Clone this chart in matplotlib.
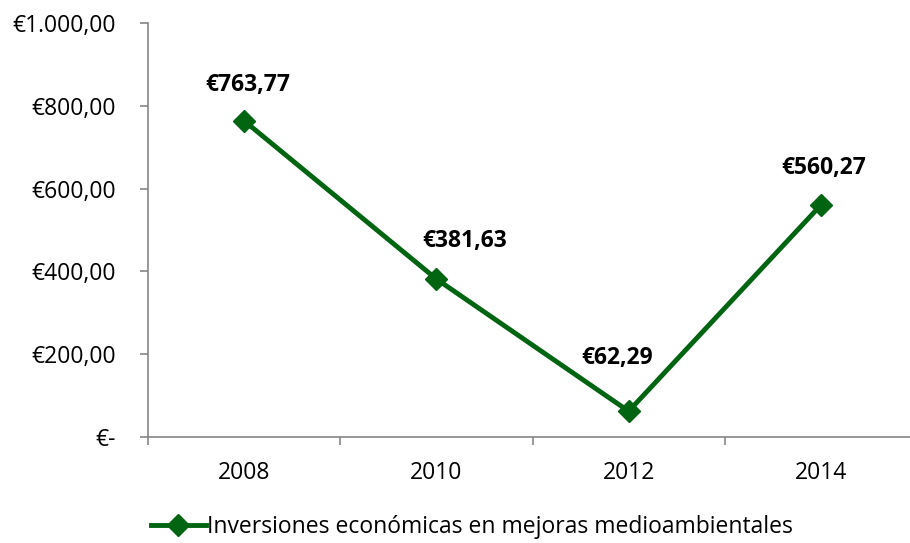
import matplotlib
matplotlib.use("Agg")
import matplotlib.pyplot as plt
from matplotlib.lines import Line2D

years = ["2008", "2010", "2012", "2014"]
values = [763.77, 381.63, 62.29, 560.27]
value_labels = ["€763,77", "€381,63", "€62,29", "€560,27"]
y_ticks = [0, 200, 400, 600, 800, 1000]
y_tick_labels = ["€-", "€200,00", "€400,00", "€600,00", "€800,00", "€1.000,00"]
series_name = "Inversiones económicas en mejoras medioambientales"

plt.rcParams['font.family'] = ['Open Sans', 'DejaVu Sans']
green = "#006411"
gray = "#868686"
fs = 16.5

fig = plt.figure(figsize=(9.10, 5.43), dpi=100)
ax = fig.add_axes([148/910, (543-437)/543, 769/910, 414/543])

x = list(range(len(years)))
ax.plot(x, values, color=green, lw=3.5, marker="D", markersize=11, zorder=3)
offsets = [(4, 36), (28, 38), (-12, 53), (3, 37)]
for xi, v, lab, (dx, dy) in zip(x, values, value_labels, offsets):
    ax.annotate(lab, (xi, v), xytext=(dx, dy), textcoords="offset pixels",
                ha="center", va="center", fontsize=fs, fontweight="bold", color="black")

ax.set_xlim(-0.5, 3.5)
ax.set_ylim(0, 1000)
ax.set_yticks(y_ticks)
ax.set_yticklabels(y_tick_labels, fontsize=fs)
ax.set_xticks(x)
ax.set_xticklabels(years, fontsize=fs)
ax.set_xticks([-0.5, 0.5, 1.5, 2.5, 3.5], minor=True)
ax.tick_params(axis="x", which="major", length=0, pad=17)
ax.tick_params(axis="x", which="minor", length=6, color=gray, width=1.2)
ax.tick_params(axis="y", length=6, color=gray, width=1.2, pad=17)
for s in ["top", "right"]:
    ax.spines[s].set_visible(False)
for s in ["left", "bottom"]:
    ax.spines[s].set_color(gray)
    ax.spines[s].set_linewidth(1.2)

handle = Line2D([], [], color=green, lw=3.5, marker="D", markersize=11)
fig.legend([handle], [series_name], loc="center", bbox_to_anchor=(472/910, 1-527/543),
           frameon=False, fontsize=fs, handlelength=2.4, handletextpad=0.05)

fig.savefig("out.png", dpi=100)
